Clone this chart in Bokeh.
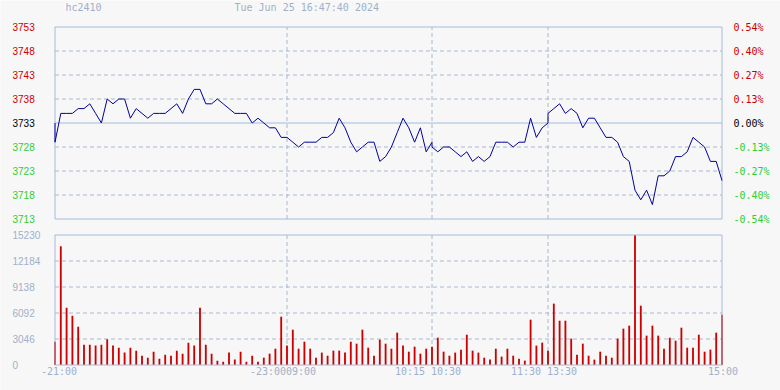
from bokeh.plotting import figure
from bokeh.models import Range1d
from bokeh.core.properties import value
from bokeh.embed import file_html
from bokeh.resources import INLINE

# ---------------- data ----------------
symbol = "hc2410"
stamp = "Tue Jun 25 16:47:40 2024"
pre_close = 3733
open_1030 = 3728
open_1330 = 3735

price_ticks = [3753, 3748, 3743, 3738, 3733, 3728, 3723, 3718, 3713]
pct_labels = ["0.54%", "0.40%", "0.27%", "0.13%", "0.00%",
              "-0.13%", "-0.27%", "-0.40%", "-0.54%"]
vol_ticks = [15230, 12184, 9138, 6092, 3046, 0]
vol_labels = ["15230", "12184", "9138", "6092", "3046", "0"]

# trading minutes counted from 21:00 (night 120, 9:00-10:15 75, 10:30-11:30 60, 13:30-15:00 90)
session_breaks = [120, 195, 255]
time_ticks = [0, 120, 195, 255, 345]
time_labels = ["-21:00", "-23:0009:00", "10:15 10:30", "11:30 13:30", "15:00"]

minutes = list(range(0, 346, 3))

prices = [3729, 3735, 3735, 3735, 3736, 3736, 3737, 3735, 3733, 3738,
          3737, 3738, 3738, 3734, 3736, 3735, 3734, 3735, 3735, 3735,
          3736, 3737, 3735, 3738, 3740, 3740, 3737, 3737, 3738, 3737,
          3736, 3735, 3735, 3735, 3733, 3734, 3733, 3732, 3732, 3730,
          3730, 3729, 3728, 3729, 3729, 3729, 3730, 3730, 3731, 3734,
          3732, 3729, 3727, 3728, 3729, 3729, 3725, 3726, 3728, 3731,
          3734, 3732, 3729, 3732, 3727, 3729, 3727, 3728, 3728, 3727,
          3726, 3727, 3725, 3726, 3725, 3726, 3729, 3729, 3729, 3728,
          3729, 3729, 3734, 3730, 3732, 3733, 3736, 3737, 3735, 3736,
          3735, 3732, 3734, 3734, 3732, 3730, 3730, 3729, 3726, 3725,
          3719, 3717, 3719, 3716, 3722, 3722, 3723, 3726, 3726, 3727,
          3730, 3729, 3728, 3725, 3725, 3721]

volumes = [2730, 13900, 6720, 5780, 4490, 2380, 2380, 2270, 2380, 3010,
           2270, 2030, 1450, 2030, 1680, 1090, 860, 1560, 740, 1210,
           1090, 1680, 1330, 2620, 2270, 6720, 2380, 1330, 510, 390,
           1450, 630, 1560, 390, 1090, 390, 860, 1330, 1910, 5660,
           2270, 4140, 1910, 2730, 1910, 860, 1450, 1090, 1680, 1680,
           1450, 2730, 2500, 4140, 2030, 1090, 2970, 2500, 1910, 3790,
           2270, 1560, 2150, 1330, 1910, 2150, 3200, 1560, 1090, 1450,
           1800, 3550, 1680, 1450, 860, 630, 1910, 980, 1910, 1090,
           740, 510, 5310, 2270, 2620, 1680, 7190, 5190, 5190, 3090,
           1210, 2500, 1090, 630, 1560, 1090, 860, 3090, 4260, 4610,
           15230, 6950, 3440, 4610, 3440, 1910, 3200, 2850, 4370, 2030,
           2030, 3550, 1560, 1800, 3790, 5900]

# line: previous close at the open, session opens after the breaks
line_t = [0] + minutes[:66] + [195] + minutes[66:86] + [255] + minutes[86:]
line_p = [pre_close] + prices[:66] + [open_1030] + prices[66:86] + [open_1330] + prices[86:]

# ---------------- layout (pixels) ----------------
W, H = 780, 390
PX_L, PX_R = 54.5, 721.5          # plot left / right edges
PR_T, PR_B = 26.5, 218.5          # price panel top / bottom
VO_T, VO_B = 234.5, 364.5         # volume panel top / bottom

t0, t1 = time_ticks[0], time_ticks[-1]
xs = (t1 - t0) / (PX_R - PX_L)
x_range = Range1d(t0 - PX_L * xs, t1 + (W - PX_R) * xs)

p_lo, p_hi = price_ticks[-1], price_ticks[0]
ps = (p_hi - p_lo) / (PR_B - PR_T)
price_range = Range1d(p_lo - (H - PR_B) * ps, p_hi + PR_T * ps)

v_lo, v_hi = vol_ticks[-1], vol_ticks[0]
vs = (v_hi - v_lo) / (VO_B - VO_T)
vol_range = Range1d(v_lo - (H - VO_B) * vs, v_hi + VO_T * vs)


def px_x(px):
    return x_range.start + px * xs


def px_price(py):
    return price_range.end - py * ps


def px_vol(py):
    return vol_range.end - py * vs


# ---------------- style ----------------
BG = "#f7f7f7"
FRAME = "#a4bcdc"
GRID = "#a8b8d0"
LIGHT = "#a0b0c8"
RED = "#cc0000"
GREEN = "#33cc33"
MONO = "DejaVu Sans Mono"
SANS = "Liberation Sans"
FS = "10px"
DASH = "4 3"

p = figure(width=W, height=H, output_backend="svg", toolbar_location=None,
           x_axis_location=None, y_axis_location=None, title=None, tools="",
           x_range=x_range, y_range=price_range,
           min_border=0, min_border_left=0, min_border_right=0,
           min_border_top=0, min_border_bottom=0,
           background_fill_color=BG, border_fill_color=BG,
           outline_line_color=None)
p.extra_y_ranges = {"vol": vol_range}
p.grid.visible = False

# ---- price panel ----
inner_p = [t for t in price_ticks[1:-1] if t != pre_close]
p.segment(x0=[t0] * len(inner_p), x1=[t1] * len(inner_p), y0=inner_p, y1=inner_p,
          line_color=GRID, line_dash=DASH, line_width=1)
p.segment(x0=session_breaks, x1=session_breaks,
          y0=[p_lo] * len(session_breaks), y1=[p_hi] * len(session_breaks),
          line_color=GRID, line_dash=DASH, line_width=1)
p.segment(x0=[t0], x1=[t1], y0=[pre_close], y1=[pre_close], line_color=FRAME, line_width=1)
p.quad(left=[t0], right=[t1], bottom=[p_lo], top=[p_hi],
       fill_color=None, line_color=FRAME, line_width=1)
p.line(line_t, line_p, line_color="#000099", line_width=1)

cols = [RED if t > pre_close else ("black" if t == pre_close else GREEN) for t in price_ticks]
p.text(x=[px_x(12)] * len(price_ticks), y=price_ticks, text=[str(t) for t in price_ticks],
       text_color=cols, text_align="left", text_baseline="middle",
       text_font=value(SANS), text_font_size=value(FS))
p.text(x=[px_x(733)] * len(price_ticks), y=price_ticks, text=pct_labels,
       text_color=cols, text_align="left", text_baseline="middle",
       text_font=value(MONO), text_font_size=value(FS))

p.text(x=[px_x(65), px_x(234)], y=[px_price(6.5)] * 2, text=[symbol, stamp],
       text_color=LIGHT, text_align="left", text_baseline="middle",
       text_font=value(MONO), text_font_size=value(FS))

# ---- volume panel ----
inner_v = vol_ticks[1:-1]
p.segment(x0=[t0] * len(inner_v), x1=[t1] * len(inner_v), y0=inner_v, y1=inner_v,
          line_color=GRID, line_dash=DASH, line_width=1, y_range_name="vol")
p.segment(x0=session_breaks, x1=session_breaks,
          y0=[v_lo] * len(session_breaks), y1=[v_hi] * len(session_breaks),
          line_color=GRID, line_dash=DASH, line_width=1, y_range_name="vol")
p.vbar(x=minutes, top=volumes, bottom=0, width=0.95,
       fill_color=RED, line_color=None, y_range_name="vol")
p.quad(left=[t0], right=[t1], bottom=[v_lo], top=[v_hi],
       fill_color=None, line_color=FRAME, line_width=1, y_range_name="vol")

p.text(x=[px_x(12)] * len(vol_ticks), y=vol_ticks, text=vol_labels,
       text_color=LIGHT, text_align="left", text_baseline="middle",
       text_font=value(SANS), text_font_size=value(FS), y_range_name="vol")

x_offsets = [4, -4, -4, -4, 1]
p.text(x=time_ticks, y=[px_vol(371)] * len(time_ticks), text=time_labels,
       x_offset=x_offsets, text_color=LIGHT, text_align="center", text_baseline="middle",
       text_font=value(MONO), text_font_size=value(FS), y_range_name="vol")

open("out.html", "w").write(file_html(p, INLINE))
